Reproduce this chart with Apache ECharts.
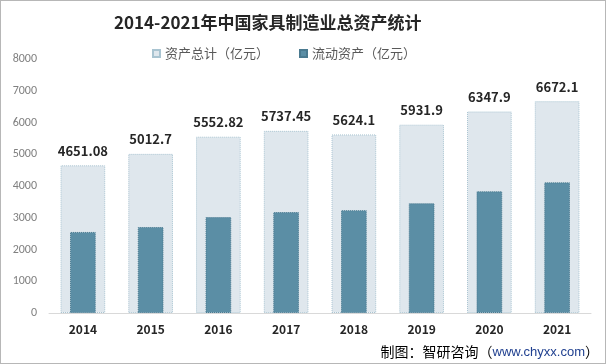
<!DOCTYPE html>
<html><head><meta charset="utf-8">
<script src="https://cdn.jsdelivr.net/npm/echarts@6/dist/echarts.min.js"></script>
<style>html,body{margin:0;padding:0;background:#fff}#c{width:606px;height:364px;box-sizing:border-box;border:1px solid #b7b7b7}</style>
</head><body><div id="c"></div>
<script>
const years = ['2014','2015','2016','2017','2018','2019','2020','2021'];
const totalAssets = [4651.08, 5012.7, 5552.82, 5737.45, 5624.1, 5931.9, 6347.9, 6672.1];
const currentAssets = [2553, 2709, 3022, 3178, 3240, 3459, 3834, 4115];
const yTicks = [0, 1000, 2000, 3000, 4000, 5000, 6000, 7000, 8000];

const chart = echarts.init(document.getElementById('c'));
const font = '"Noto Sans CJK SC", "Microsoft YaHei", sans-serif';
chart.setOption({
  animation: false,
  textStyle: { fontFamily: font },
  title: {
    text: '2014-2021年中国家具制造业总资产统计',
    left: 108, top: 8,
    textStyle: { fontSize: 17, fontWeight: 'bold', color: '#262626', fontFamily: font }
  },
  legend: {
    top: 41, left: 146,
    itemWidth: 7, itemHeight: 7, itemGap: 30,
    icon: 'rect',
    textStyle: { fontSize: 13, color: '#595959', fontFamily: font },
    data: ['资产总计（亿元）', '流动资产（亿元）']
  },
  graphic: [{
    type: 'text', right: 6, bottom: 4,
    style: {
      rich: {
        a: { fontSize: 14, fill: '#000', fontFamily: font },
        b: { fontSize: 13, fill: '#1f3f8f', fontFamily: 'Arial, "Liberation Sans", sans-serif' }
      },
      text: '{a|制图：智研咨询（}{b|www.chyxx.com}{a|）}'
    }
  }],
  grid: { left: 48, right: 14, top: 58, bottom: 50, containLabel: false },
  xAxis: [{
    type: 'category', data: years,
    axisLine: { lineStyle: { color: '#d9d9d9' } },
    axisTick: { show: false },
    axisLabel: { fontSize: 12, fontWeight: 'bold', color: '#262626', margin: 10, fontFamily: font }
  }, {
    type: 'category', data: years, show: false
  }],
  yAxis: {
    type: 'value', min: yTicks[0], max: yTicks[yTicks.length - 1], interval: 1000,
    splitLine: { show: false },
    axisLine: { show: false }, axisTick: { show: false },
    axisLabel: { fontSize: 12, color: '#808080', margin: 12, formatter: v => String(v), fontFamily: 'Calibri, "Liberation Sans", sans-serif' }
  },
  series: [
    {
      name: '资产总计（亿元）', type: 'bar', data: totalAssets, xAxisIndex: 0,
      barWidth: '66%', z: 1,
      itemStyle: { color: '#dfe7ed', borderColor: '#a9c4d1', borderWidth: 1, borderType: 'dotted' },
      label: { show: true, position: 'top', distance: 8, fontSize: 13, fontWeight: 'bold', color: '#262626', fontFamily: font }
    },
    {
      name: '流动资产（亿元）', type: 'bar', data: currentAssets, xAxisIndex: 1,
      barWidth: '38%', z: 2,
      itemStyle: { color: '#5b8ea5', borderColor: '#4a7a90', borderWidth: 1, borderType: 'dotted' }
    }
  ]
});
</script></body></html>
